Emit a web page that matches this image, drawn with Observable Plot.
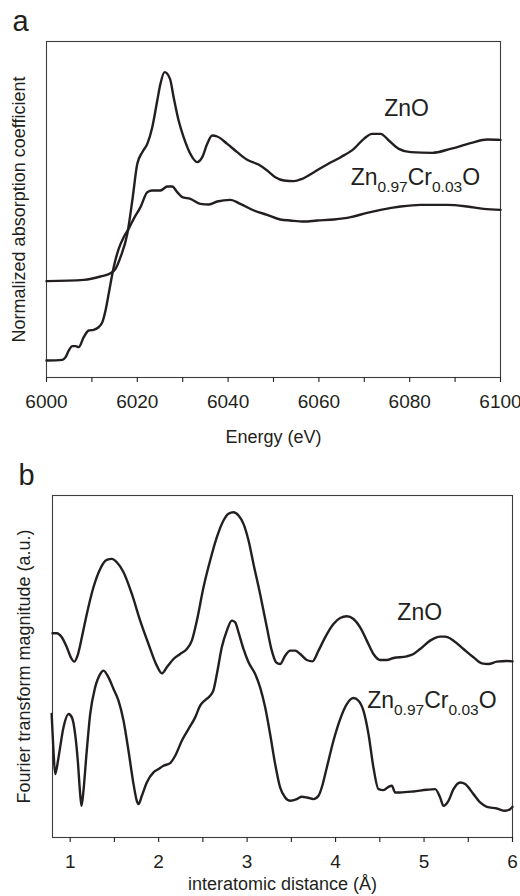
<!DOCTYPE html>
<html><head><meta charset="utf-8">
<script src="https://cdn.jsdelivr.net/npm/d3@7"></script>
<script src="https://cdn.jsdelivr.net/npm/@observablehq/plot@0.6"></script>
<style>html,body{margin:0;padding:0;background:#fff;} svg{display:block;}</style>
</head><body><div id="chart"></div>
<script>
// ---------- Panel a : XANES (Energy, eV ; normalized absorption, a.u.) ----------
const energyZnO = [6000,6008.2,6011.9,6014.1,6015.2,6016.3,6017.8,6018.9,6020.0,6021.1,6022.2,6023.3,6024.4,6025.1,6026.0,6027.2,6028.0,6029.1,6030.2,6032.1,6033.2,6034.3,6035.4,6036.5,6037.6,6039.8,6042.0,6044.2,6046.8,6048.6,6050.4,6052.3,6054.5,6056.3,6058.9,6061.8,6064.8,6067.7,6069.9,6071.7,6073.6,6075.4,6077.6,6080.2,6085.0,6089.0,6093.4,6097.1,6100];
const absZnO    = [28.9,29.3,30.3,31.3,32.6,36.1,43.1,53.1,64.1,67.6,70.1,75.1,83.1,88.1,91.6,89.6,84.1,77.1,72.1,66.1,64.6,66.1,70.1,72.6,72.3,70.1,67.6,65.3,63.8,62.1,60.1,59.1,58.9,59.6,61.6,63.9,66.1,68.6,71.6,73.1,73.1,71.1,68.6,67.6,67.4,68.6,70.3,71.4,71.3];
const energyCr  = [6000,6003.5,6004.2,6004.9,6005.7,6006.4,6007.1,6008.2,6009.3,6010.4,6011.5,6012.3,6013.0,6013.7,6014.8,6015.9,6017.0,6018.1,6019.2,6020.7,6022.2,6023.3,6025.1,6026.6,6027.7,6028.8,6029.9,6031.7,6033.9,6035.8,6037.6,6040.5,6042.7,6045.7,6048.6,6051.5,6053.7,6056.7,6059.6,6063.3,6067.0,6070.6,6073.6,6078.0,6082.4,6088.3,6092.7,6096.3,6100];
const absCr     = [5.1,5.3,6.1,8.1,9.4,9.4,9.1,12.1,14.1,14.3,15.1,16.6,20.1,25.1,33.1,38.6,42.1,44.6,47.6,51.1,55.6,56.1,56.1,57.3,57.3,55.6,54.1,53.6,52.1,51.9,52.8,53.3,52.1,50.1,48.8,47.4,47.1,46.8,47.1,47.4,48.1,49.4,50.3,51.3,51.8,51.8,51.3,50.6,50.3];
const energyTicks  = [6000,6010,6020,6030,6040,6050,6060,6070,6080,6090,6100];
const energyLabels = [6000,6020,6040,6060,6080,6100];

// ---------- Panel b : Fourier transform (distance, Å ; magnitude, a.u.) ----------
const rZnO  = [0.80,0.849,0.905,0.962,1.007,1.045,1.083,1.132,1.188,1.263,1.339,1.414,1.471,1.527,1.603,1.697,1.791,1.885,1.979,2.036,2.092,2.168,2.243,2.318,2.375,2.432,2.507,2.582,2.658,2.733,2.789,2.846,2.903,2.959,3.016,3.072,3.147,3.223,3.279,3.328,3.373,3.430,3.487,3.543,3.600,3.675,3.739,3.807,3.882,3.976,4.052,4.127,4.202,4.278,4.353,4.428,4.504,4.579,4.655,4.805,4.881,4.956,5.069,5.182,5.239,5.333,5.446,5.559,5.653,5.728,5.823,5.936,6.0];
const ftZnO = [61.2,61.2,60.0,57.0,54.0,52.7,54.5,60.0,67.0,75.0,80.5,83.2,83.5,82.5,79.5,73.0,65.0,58.0,51.5,49.2,51.0,53.5,55.0,56.5,59.0,65.0,75.0,83.0,90.0,95.0,97.0,97.5,96.5,94.0,89.0,82.0,73.0,63.0,56.0,52.5,52.0,54.5,56.0,56.0,55.0,53.2,52.8,56.0,60.0,64.0,65.8,66.3,65.5,63.0,59.0,55.0,53.2,53.2,53.8,54.3,55.0,56.5,59.0,60.2,60.2,59.0,56.5,54.0,52.2,52.0,52.7,52.9,52.8];
const rCr   = [0.79,0.811,0.830,0.868,0.924,0.981,1.019,1.056,1.086,1.113,1.128,1.150,1.181,1.226,1.282,1.339,1.376,1.433,1.490,1.546,1.603,1.659,1.716,1.753,1.772,1.810,1.866,1.942,1.998,2.055,2.130,2.187,2.262,2.337,2.413,2.469,2.526,2.582,2.620,2.658,2.714,2.771,2.827,2.865,2.903,2.959,3.016,3.091,3.147,3.204,3.260,3.317,3.373,3.430,3.487,3.562,3.618,3.675,3.750,3.807,3.844,3.901,3.976,4.052,4.127,4.202,4.259,4.315,4.372,4.428,4.485,4.542,4.598,4.636,4.673,4.730,4.881,5.031,5.126,5.182,5.220,5.276,5.333,5.408,5.465,5.559,5.634,5.710,5.823,5.917,5.973,6.0];
const ftCr  = [37.0,26.0,19.0,24.0,33.0,37.0,36.0,31.0,23.0,13.0,9.5,14.0,24.0,37.0,45.0,49.0,50.0,48.0,44.5,41.0,35.0,26.0,16.0,11.0,10.0,12.5,16.5,19.5,20.5,21.5,22.3,24.5,29.0,32.5,36.0,39.5,41.2,42.5,44.2,49.0,57.0,62.0,65.0,64.5,61.5,56.5,52.5,49.0,45.0,39.0,31.0,22.0,15.0,12.0,11.0,11.5,12.2,12.0,11.5,12.5,15.0,21.0,29.0,35.5,40.0,41.8,41.0,38.0,31.0,21.0,14.5,14.2,15.2,15.5,13.5,13.5,13.8,14.3,14.5,12.0,9.5,11.0,14.5,16.5,16.0,13.0,10.5,9.2,8.7,8.0,8.5,9.2];
const distanceTicks  = [1,1.5,2,2.5,3,3.5,4,4.5,5,5.5,6];
const distanceLabels = [1,2,3,4,5,6];

// ---------- Text ----------
const seriesNames = ["ZnO", "Zn0.97Cr0.03O"];
const labelPosA = [{x: 6079.3, y: 80.8}, {x: 6067.0, y: 60.1}];
const labelPosB = [{x: 4.951, y: 67.5}, {x: 4.357, y: 40.9}];

const FONT = '"Liberation Sans", Arial, Helvetica, sans-serif';
const INK = "#231f20";
const zip = (xs, ys) => xs.map((x, i) => ({x, y: ys[i]}));

function panel({width, height, margins, xDomain, yDomain, ticks, tickLabels, series, labelPos, xLabel, xLabelDy, yLabel, yLabelDx, letter}) {
  const [mt, mr, mb, ml] = margins;
  return Plot.plot({
    width, height, marginTop: mt, marginRight: mr, marginBottom: mb, marginLeft: ml,
    style: {fontFamily: FONT, fontSize: "18px", color: INK, background: "#fff", overflow: "visible"},
    x: {domain: xDomain},
    y: {domain: yDomain, axis: null},
    marks: [
      Plot.frame({stroke: "#3c3c3c", strokeWidth: 1.1}),
      Plot.axisX({ticks, tickFormat: d => tickLabels.includes(d) ? String(d) : "", tickSize: 5, tickPadding: 12, label: null, fontSize: 19, strokeWidth: 1.1}),
      ...series.map(s => Plot.line(s, {x: "x", y: "y", stroke: INK, strokeWidth: 2.4, curve: "monotone-x", strokeLinejoin: "round"})),
      Plot.text([{...labelPos[0], t: seriesNames[0]}], {x: "x", y: "y", text: "t", fontSize: 23, textAnchor: "middle", lineAnchor: "middle", fill: INK}),
      Plot.text([{...labelPos[1], t: seriesNames[1]}], {x: "x", y: "y", text: "t", fontSize: 23, textAnchor: "start", lineAnchor: "middle", fill: INK}),
      Plot.text([xLabel], {text: d => d, frameAnchor: "bottom", textAnchor: "middle", lineAnchor: "middle", dy: xLabelDy, fontSize: 18, fill: INK}),
      Plot.text([yLabel], {text: d => d, frameAnchor: "left", textAnchor: "middle", lineAnchor: "middle", dx: yLabelDx, rotate: -90, fontSize: 18, fill: INK}),
      Plot.text([letter], {text: d => d, frameAnchor: "top-left", textAnchor: "start", lineAnchor: "middle", dx: -34, dy: -20, fontSize: 29, fill: INK})
    ]
  });
}

const plotA = panel({
  width: 520, height: 448, margins: [41, 20, 71, 46],
  xDomain: [6000, 6100], yDomain: [0, 100.8],
  ticks: energyTicks, tickLabels: energyLabels,
  series: [zip(energyZnO, absZnO), zip(energyCr, absCr)],
  labelPos: labelPosA, xLabel: "Energy (eV)", xLabelDy: 60,
  yLabel: "Normalized absorption coefficient", yLabelDx: -27, letter: "a"
});
const plotB = panel({
  width: 520, height: 448, margins: [47, 8, 59, 52],
  xDomain: [0.8, 6], yDomain: [0, 102.5],
  ticks: distanceTicks, tickLabels: distanceLabels,
  series: [zip(rZnO, ftZnO), zip(rCr, ftCr)],
  labelPos: labelPosB, xLabel: "interatomic distance (Å)", xLabelDy: 47,
  yLabel: "Fourier transform magnitude (a.u.)", yLabelDx: -28, letter: "b"
});

// subscripts for the doped compound label
function subscriptify(svg) {
  d3.select(svg).selectAll("text").filter(function () { return this.textContent === seriesNames[1]; }).each(function () {
    const t = d3.select(this);
    t.text(null);
    const parts = [["Zn", 0, null], ["0.97", 7, 15.5], ["Cr", -7, null], ["0.03", 7, 15.5], ["O", -7, null]];
    parts.forEach(([s, dy, fs]) => {
      const sp = t.append("tspan").text(s);
      if (dy) sp.attr("dy", dy);
      if (fs) sp.attr("font-size", fs);
    });
  });
}
subscriptify(plotA); subscriptify(plotB);

const host = document.getElementById("chart");
host.appendChild(plotA);
host.appendChild(plotB);
</script>
</body></html>
